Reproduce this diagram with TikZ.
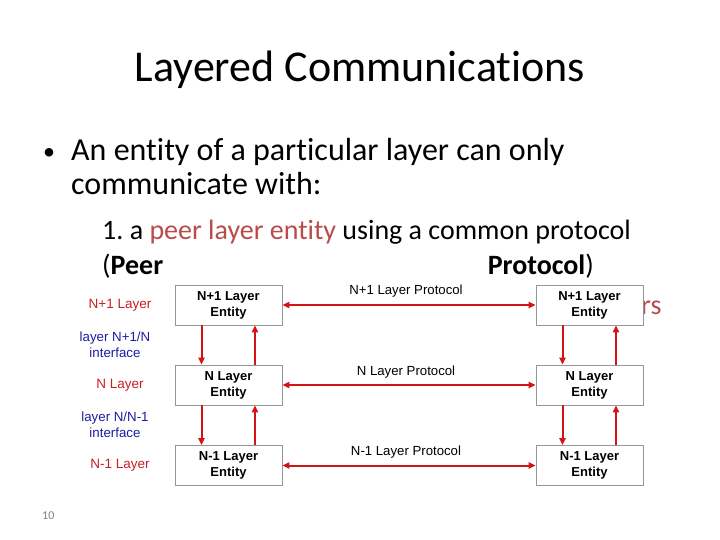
\documentclass[tikz,border=0pt]{standalone}
\usepackage{fontspec}
\setmainfont{Carlito}[Ligatures=NoCommon]
\newfontfamily\arialfont{Liberation Sans}
\usetikzlibrary{arrows.meta}
\definecolor{arrred}{RGB}{210,20,20}
\definecolor{lblred}{RGB}{200,30,40}
\definecolor{lblblue}{RGB}{30,30,160}
\definecolor{peerred}{RGB}{185,75,75}
\definecolor{boxgray}{RGB}{150,150,150}
\tikzset{
  entity/.style={draw=boxgray, line width=0.6pt, minimum width=107pt, minimum height=40pt, align=center, inner sep=0pt, font=\arialfont\bfseries\fontsize{13}{16}\selectfont},
  proto/.style={font=\arialfont\fontsize{13.2}{15}\selectfont, inner sep=0pt},
  layerlbl/.style={font=\arialfont\fontsize{13.5}{16}\selectfont, text=lblred, inner sep=0pt},
  ifacelbl/.style={font=\arialfont\fontsize{13.3}{16}\selectfont, text=lblblue, align=center, inner sep=0pt},
  redarrow/.style={draw=arrred, line width=2pt, -{Triangle[length=7pt,width=6pt]}},
  redarrows/.style={draw=arrred, line width=2pt, {Triangle[length=7pt,width=6pt]}-{Triangle[length=7pt,width=6pt]}},
  slidetext/.style={anchor=base west, inner sep=0pt}
}
\begin{document}
\frenchspacing
\begin{tikzpicture}[x=1pt,y=-1pt]
\useasboundingbox (0,0) rectangle (720,540);
% title and text
\node[anchor=base, inner sep=0pt, font=\fontsize{44}{52}\selectfont] (title) at (360,82) {Layered Communications};
\node[slidetext, font=\fontsize{24}{28}\selectfont] (bul) at (43,160) {•};
\node[slidetext, font=\fontsize{32}{38}\selectfont] (b1) at (71,161) {An entity of a particular layer can only};
\node[slidetext, font=\fontsize{32}{38}\selectfont] (b2) at (71,195) {communicate with:};
\node[slidetext, font=\fontsize{28}{34}\selectfont] (s1) at (102,240) {1. a \textcolor{peerred}{peer layer entity} using a common protocol};
\node[slidetext, font=\fontsize{28}{34}\selectfont] (s2a) at (102,274) {(\textbf{Peer}};
\node[anchor=base east, inner sep=0pt, font=\fontsize{28}{34}\selectfont] (s2b) at (594,274) {\textbf{Protocol})};
\node[slidetext, font=\fontsize{28}{34}\selectfont, text=peerred] (rs) at (641,314) {rs};
\node[slidetext, font=\fontsize{12}{14}\selectfont, text=gray] (num) at (42,519) {10};
% pasted diagram background
\fill[white] (60,283) rectangle (644,490);
% boxes
\node[entity] (L1) at (228.5,305) {N+1 Layer\\Entity};
\node[entity] (L2) at (228.5,385) {N Layer\\Entity};
\node[entity] (L3) at (228.5,465.5) {N-1 Layer\\Entity};
\node[entity] (R1) at (589.5,305) {N+1 Layer\\Entity};
\node[entity] (R2) at (589.5,385) {N Layer\\Entity};
\node[entity] (R3) at (589.5,465.5) {N-1 Layer\\Entity};
% left labels
\node[layerlbl] (ln1) at (120,305) {N+1 Layer};
\node[ifacelbl] (if1) at (115,345) {layer N+1/N\\interface};
\node[layerlbl] (ln2) at (120,385) {N Layer};
\node[ifacelbl] (if2) at (115,425) {layer N/N-1\\interface};
\node[layerlbl] (ln3) at (120,465) {N-1 Layer};
% protocol labels
\node[proto] (p1) at (406,291) {N+1 Layer Protocol};
\node[proto] (p2) at (406,372) {N Layer Protocol};
\node[proto] (p3) at (406,452) {N-1 Layer Protocol};
% horizontal arrows
\draw[redarrows] (L1.east) -- (R1.west);
\draw[redarrows] (L2.east) -- (R2.west);
\draw[redarrows] (L3.east) -- (R3.west);
% vertical arrows
\foreach \a/\b in {L1/L2, L2/L3, R1/R2, R2/R3}{
  \draw[redarrow] ([xshift=-27pt]\a.south) -- ([xshift=-27pt]\b.north);
  \draw[redarrow] ([xshift=26.5pt]\b.north) -- ([xshift=26.5pt]\a.south);
}
\end{tikzpicture}
\end{document}
